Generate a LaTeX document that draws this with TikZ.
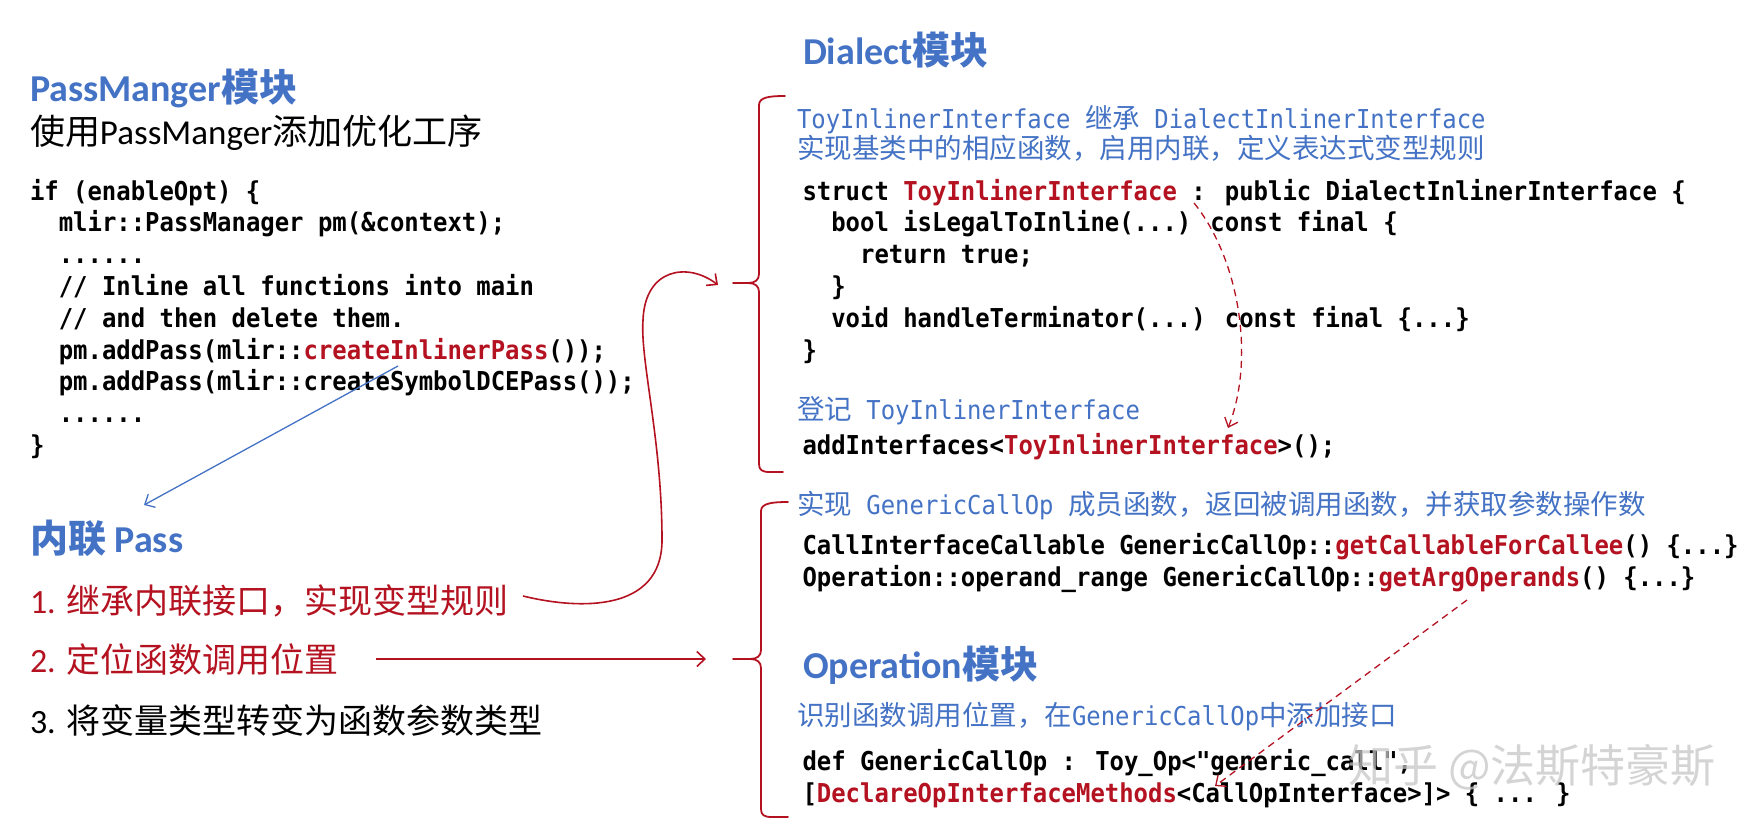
\documentclass[tikz,border=0pt]{standalone}
\usepackage{fontspec}
\setmainfont{Carlito}
\newfontfamily\zhfont{Noto Sans CJK SC}
\newfontfamily\codefont[FakeStretch=0.92]{DejaVu Sans Mono}
\usetikzlibrary{arrows.meta}
\definecolor{hblue}{RGB}{68,114,196}
\definecolor{hred}{RGB}{180,18,32}
\newcommand\rd[1]{\textcolor{hred}{#1}}
\newcommand\cf{\fontsize{26}{30}\selectfont\codefont}
\begin{document}
\begin{tikzpicture}[x=1pt,y=-1pt,
  txt/.style={anchor=base west, inner sep=0pt, outer sep=0pt},
  head/.style={txt, text=hblue, font=\fontsize{38}{42}\selectfont\bfseries},
  codeline/.style={txt, font=\fontsize{26}{30}\selectfont\codefont\bfseries},
  note/.style={txt, text=hblue, font=\fontsize{27.5}{30}\selectfont},
  item/.style={txt, font=\fontsize{34}{38}\selectfont},
  redarrow/.style={draw=hred, line width=1.6pt, -{Straight Barb[length=8pt,width=15pt]}},
  bluearrow/.style={draw=hblue, line width=1.3pt, -{Straight Barb[length=8pt,width=15pt]}},
  dasharrow/.style={draw=hred, line width=1.3pt, dash pattern=on 7pt off 5pt, -{Straight Barb[length=8pt,width=14pt]}},
  brace/.style={draw=hred, line width=1.8pt, line join=round, line cap=round}]
\useasboundingbox (0,0) rectangle (1760,838);

% ---------------- left column ----------------
\node[head] (pmh) at (30,101) {PassManger{\zhfont 模块}};
\node[txt, font=\fontsize{35}{38}\selectfont] (pmsub) at (30,144) {{\zhfont 使用}PassManger{\zhfont 添加优化工序}};

\node[codeline] (l1) at (30,200) {if (enableOpt) \{};
\node[codeline] (l2) at (30,231.8) {\phantom{xx}mlir::PassManager pm(\&context);};
\node[codeline] (l3) at (30,263.6) {\phantom{xx}......};
\node[codeline] (l4) at (30,295.4) {\phantom{xx}// Inline all functions into main};
\node[codeline] (l5) at (30,327.2) {\phantom{xx}// and then delete them.};
\node[codeline] (l6) at (30,359) {\phantom{xx}pm.addPass(mlir::\rd{createInlinerPass}());};
\node[codeline] (l7) at (30,390.8) {\phantom{xx}pm.addPass(mlir::createSymbolDCEPass());};
\node[codeline] (l8) at (30,422.6) {\phantom{xx}......};
\node[codeline] (l9) at (30,454.4) {\}};

\node[head] (inh) at (30,552) {{\zhfont 内联} Pass};
\node[item, text=hred] (it1) at (30,613) {1. {\zhfont 继承内联接口，实现变型规则}};
\node[item, text=hred] (it2) at (30,672.5) {2. {\zhfont 定位函数调用位置}};
\node[item] (it3) at (30,733) {3. {\zhfont 将变量类型转变为函数参数类型}};

% ---------------- right column ----------------
\node[head] (dh) at (803,64) {Dialect{\zhfont 模块}};
\node[note] (n1) at (797,128.5) {{\cf ToyInlinerInterface }{\zhfont 继承}{\cf\ DialectInlinerInterface}};
\node[note] (n2) at (797,158.5) {{\zhfont 实现基类中的相应函数，启用内联，定义表达式变型规则}};

\node[codeline] (c1) at (802.5,200) {struct \rd{ToyInlinerInterface} : public DialectInlinerInterface \{};
\node[codeline] (c2) at (802.5,231.8) {\phantom{xx}bool isLegalToInline(...) const final \{};
\node[codeline] (c3) at (802.5,263.6) {\phantom{xxxx}return true;};
\node[codeline] (c4) at (802.5,295.4) {\phantom{xx}\}};
\node[codeline] (c5) at (802.5,327.2) {\phantom{xx}void handleTerminator(...) const final \{...\}};
\node[codeline] (c6) at (802.5,359) {\}};
\node[note] (n3) at (797,419) {{\zhfont 登记}{\cf\ ToyInlinerInterface}};
\node[codeline] (c7) at (802.5,454.4) {addInterfaces<\rd{ToyInlinerInterface}>();};

\node[note] (n4) at (797,514.5) {{\zhfont 实现}{\cf\ GenericCallOp }{\zhfont 成员函数，返回被调用函数，并获取参数操作数}};
\node[codeline] (c8) at (802.5,554) {CallInterfaceCallable GenericCallOp::\rd{getCallableForCallee}() \{...\}};
\node[codeline] (c9) at (802.5,586) {Operation::operand\_range GenericCallOp::\rd{getArgOperands}() \{...\}};

\node[head] (oh) at (803,678) {Operation{\zhfont 模块}};
\node[note] (n5) at (797,725.5) {{\zhfont 识别函数调用位置，在}{\cf GenericCallOp}{\zhfont 中添加接口}};
\node[codeline] (c10) at (802.5,770) {def GenericCallOp : Toy\_Op<"generic\_call",};
\node[codeline] (c11) at (802.5,802) {[\rd{DeclareOpInterfaceMethods}<CallOpInterface>]> \{ ... \}};

% watermark
\node[font=\fontsize{45}{50}\selectfont\zhfont, text=gray!45, opacity=0.75, inner sep=0pt] (wm) at (1532,767) {知乎 @法斯特豪斯};

% ---------------- braces ----------------
\draw[brace] (785,96) .. controls (770,96) and (759,97) .. (759,105)
  -- (759,274) .. controls (759,280) and (755,283) .. (748,283) -- (733,283)
  -- (748,283) .. controls (755,283) and (759,286) .. (759,292)
  -- (759,464) .. controls (759,470) and (762,472) .. (770,472) -- (783,472);
\draw[brace] (788,502) .. controls (773,502) and (761,503) .. (761,511)
  -- (761,650) .. controls (761,656) and (757,659) .. (750,659) -- (733,659)
  -- (750,659) .. controls (757,659) and (761,662) .. (761,668)
  -- (761,809) .. controls (761,815) and (764,817) .. (772,817) -- (788,817);

% ---------------- connectors ----------------
\coordinate (bs) at (398,366);
\coordinate (be) at (144,505);
\draw[bluearrow] (bs) -- (be);

\coordinate (r1s) at (523,596);
\coordinate (r1e) at (718,285);
\draw[redarrow] (r1s) .. controls (580,610) and (662,612) .. (662,540)
  .. controls (662,440) and (640,360) .. (643,320)
  .. controls (645,268) and (688,262) .. (r1e);

\coordinate (r2s) at (376,659);
\coordinate (r2e) at (706,659);
\draw[redarrow] (r2s) -- (r2e);

\coordinate (d1s) at (1194,203);
\coordinate (d1e) at (1228,428);
\draw[dasharrow] (d1s) .. controls (1240,260) and (1255,360) .. (d1e);

\coordinate (d2s) at (1467,600);
\coordinate (d2e) at (1215,786);
\draw[dasharrow] (d2s) -- (d2e);
\end{tikzpicture}
\end{document}
